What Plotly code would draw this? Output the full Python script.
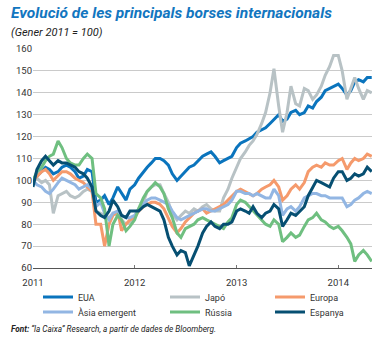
import pandas as pd
import plotly.graph_objects as go

# semi-monthly dates (1st and 15th) from Jan 2011 to May 2014
dates = pd.date_range("2011-01-01", "2014-05-01", freq="SMS")

eua = [100,102,104,106,105,103,104,106,107,106,
       104,101,102,105,104,90,91,93,89,92,
       97,94,91,96,98,101,104,106,108,110,
       110,109,107,103,100,102,104,106,107,109,
       111,112,113,111,108,109,110,111,115,117,
       118,119,120,122,123,124,126,128,130,127,
       128,131,132,130,131,134,133,136,138,141,
       142,143,144,142,139,141,145,146,145,147,
       147]

japo = [100,101,99,100,98,85,93,94,95,93,
        92,93,95,96,95,86,85,84,83,85,
        84,82,80,81,83,86,90,95,97,98,
        98,94,90,85,82,84,86,85,87,86,
        88,89,87,86,86,92,96,101,106,110,
        113,116,118,121,126,131,140,151,134,122,
        131,143,135,134,142,141,137,139,143,148,
        152,157,157,150,137,142,147,142,137,141,
        140]

europa = [100,102,104,105,103,100,102,104,104,103,
          101,100,99,97,95,80,80,70,80,84,
          86,77,80,82,83,86,88,89,90,90,
          89,87,83,79,76,78,81,83,85,86,
          87,85,86,87,88,89,91,93,95,96,
          95,94,93,94,96,97,98,100,97,91,
          93,96,98,96,99,104,106,107,106,108,
          107,107,109,110,105,108,110,109,110,112,
          111]

asia = [100,98,97,95,94,96,99,101,100,99,
        98,96,97,98,96,88,90,85,82,85,
        86,84,83,83,84,87,89,91,92,92,
        91,90,89,86,83,82,83,84,85,86,
        87,87,86,86,87,88,89,91,95,95,
        94,94,93,94,93,92,92,96,93,84,
        87,88,86,88,92,93,94,94,93,93,
        92,92,92,92,88,89,91,92,94,95,
        94]

russia = [100,104,106,109,111,112,118,115,110,108,
          107,107,110,112,110,94,92,87,70,80,
          84,82,77,79,82,87,92,95,97,99,
          97,94,87,83,76,74,78,79,80,82,
          83,82,81,80,79,78,81,83,89,91,
          90,88,86,84,82,80,79,82,80,72,
          74,76,74,75,79,82,83,85,82,81,
          79,78,79,77,74,71,63,66,68,66,
          63]

espanya = [97,105,109,111,109,107,109,108,108,107,
           106,104,103,101,97,86,84,83,86,91,
           88,84,83,86,86,86,88,89,88,87,
           86,82,74,70,66,68,67,61,66,70,
           76,79,81,79,78,80,80,81,86,87,
           86,85,88,85,83,85,86,89,87,79,
           82,85,84,86,88,93,97,100,99,98,
           97,101,104,104,100,101,103,102,103,106,
           104]

names = ["EUA", "Japó", "Europa", "Àsia emergent", "Rússia", "Espanya"]
series = [eua, japo, europa, asia, russia, espanya]
colors = ["#0a74bd", "#b8c2c5", "#f59a6c", "#92b6e3", "#6fbf80", "#064f72"]

year_ticks = ["2011-01-01", "2012-01-01", "2013-01-01", "2014-01-01"]
year_labels = ["2011", "2012", "2013", "2014"]
y_ticks = [60, 70, 80, 90, 100, 110, 120, 130, 140, 150, 160]

W, H = 382, 338
# legend placement (pixels): line start x, row centre y
leg_pos = [(43, 297), (170, 297), (275, 297), (43, 312), (170, 312), (275, 312)]

fig = go.Figure()
for i, (nm, s, c) in enumerate(zip(names, series, colors)):
    lg = "legend" if i == 0 else f"legend{i+1}"
    fig.add_trace(go.Scatter(x=dates, y=s, mode="lines", name=nm,
                             line=dict(color=c, width=3), legend=lg))

font_family = "Roboto"
layout_legends = {}
for i, (lx, ly) in enumerate(leg_pos):
    key = "legend" if i == 0 else f"legend{i+1}"
    layout_legends[key] = dict(
        x=(lx - 5) / W, y=1 - ly / H, xref="container", yref="container",
        xanchor="left", yanchor="middle", bgcolor="rgba(0,0,0,0)",
        font=dict(family=font_family, size=9, color="#333333"),
        borderwidth=0,
    )

fig.update_layout(
    width=W, height=H,
    margin=dict(l=33, r=10, t=49, b=70, autoexpand=False),
    paper_bgcolor="white", plot_bgcolor="white",
    showlegend=True,
    font=dict(family=font_family, size=9, color="#333333"),
    xaxis=dict(
        range=["2011-01-01", "2014-05-02"],
        tickvals=year_ticks, ticktext=year_labels,
        showgrid=False, zeroline=False,
        showline=True, linecolor="#555555", linewidth=1.2,
        ticks="inside", ticklen=3, tickcolor="#777777",
        tickfont=dict(family=font_family, size=9.5, color="#333333"),
        ticklabelstandoff=5,
    ),
    yaxis=dict(
        range=[60, 160], tickvals=y_ticks,
        showgrid=True, gridcolor="#cacaca", gridwidth=1,
        zeroline=False, showline=False,
        tickfont=dict(family=font_family, size=9.5, color="#333333"),
    ),
    **layout_legends,
)

def px_x(px):
    return (px - 33) / (W - 33 - 10)

def px_y(py):
    return (H - 70 - py) / (H - 49 - 70)

fig.add_annotation(
    text="Evolució de les principals borses internacionals",
    xref="paper", yref="paper", x=px_x(9), y=px_y(13),
    xanchor="left", yanchor="middle", showarrow=False,
    font=dict(family=font_family, size=15.5, color="#1276c0", weight="bold", style="italic"),
)
fig.add_annotation(
    text="(Gener 2011 = 100)",
    xref="paper", yref="paper", x=px_x(9), y=px_y(32),
    xanchor="left", yanchor="middle", showarrow=False,
    font=dict(family=font_family, size=11, color="#222222", style="italic"),
)
fig.add_annotation(
    text="<b>Font:</b> “la Caixa” Research, a partir de dades de Bloomberg.",
    xref="paper", yref="paper", x=px_x(9), y=px_y(329),
    xanchor="left", yanchor="middle", showarrow=False,
    font=dict(family=font_family, size=8.2, color="#222222", style="italic"),
)

fig.write_html("out.html")
